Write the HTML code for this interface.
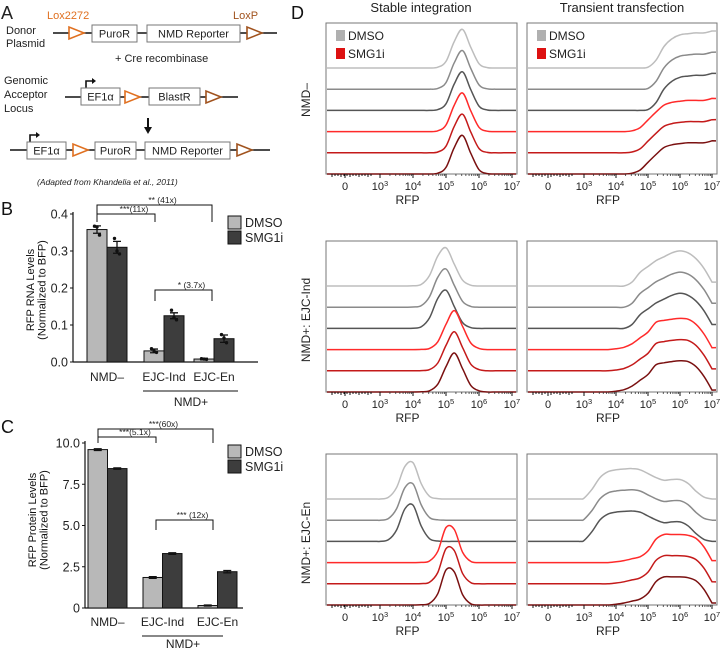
<!DOCTYPE html>
<html><head><meta charset="utf-8"><style>
html,body{margin:0;padding:0;background:#fff;}
svg{display:block;font-family:"Liberation Sans",sans-serif;}
</style></head><body>
<svg id="fig" width="720" height="649" viewBox="0 0 720 649">
<!-- Panel A -->
<g id="panelA" font-size="11" fill="#222">
  <text x="1" y="19" font-size="18">A</text>
  <text x="47" y="19" fill="#e07020">Lox2272</text>
  <text x="233" y="19" fill="#a0521d">LoxP</text>
  <text x="6" y="34">Donor</text>
  <text x="6" y="47">Plasmid</text>
  <line x1="53" y1="33" x2="277" y2="33" stroke="#111" stroke-width="1.6"/>
  <polygon points="69,27 69,39 84,33" fill="#fff" stroke="#e07020" stroke-width="1.6"/>
  <rect x="92" y="25" width="45" height="17" fill="#fff" stroke="#777"/>
  <text x="114.5" y="37.5" text-anchor="middle">PuroR</text>
  <rect x="147" y="25" width="93" height="17" fill="#fff" stroke="#777"/>
  <text x="193.5" y="37.5" text-anchor="middle">NMD Reporter</text>
  <polygon points="247,27 247,39 262,33" fill="#fff" stroke="#a0521d" stroke-width="1.6"/>
  <text x="115" y="62">+ Cre recombinase</text>
  <text x="4" y="84">Genomic</text>
  <text x="4" y="98">Acceptor</text>
  <text x="4" y="112">Locus</text>
  <line x1="65" y1="97" x2="238" y2="97" stroke="#111" stroke-width="1.6"/>
  <path d="M86,88 V81 H93" fill="none" stroke="#111" stroke-width="1.6"/>
  <polygon points="92,78 96,81 92,84" fill="#111"/>
  <rect x="81" y="88" width="39" height="17" fill="#fff" stroke="#777"/>
  <text x="100.5" y="100.5" text-anchor="middle">EF1α</text>
  <polygon points="125,91 125,103 140,97" fill="#fff" stroke="#e07020" stroke-width="1.6"/>
  <rect x="149" y="88" width="51" height="17" fill="#fff" stroke="#777"/>
  <text x="174.5" y="100.5" text-anchor="middle">BlastR</text>
  <polygon points="206,91 206,103 221,97" fill="#fff" stroke="#a0521d" stroke-width="1.6"/>
  <line x1="148" y1="118" x2="148" y2="128" stroke="#111" stroke-width="2"/>
  <polygon points="144,127 152,127 148,134" fill="#111"/>
  <line x1="10" y1="150" x2="270" y2="150" stroke="#111" stroke-width="1.6"/>
  <path d="M30,142 V135 H37" fill="none" stroke="#111" stroke-width="1.6"/>
  <polygon points="36,132 40,135 36,138" fill="#111"/>
  <rect x="27" y="142" width="39" height="17" fill="#fff" stroke="#777"/>
  <text x="46.5" y="154.5" text-anchor="middle">EF1α</text>
  <polygon points="73,144 73,156 88,150" fill="#fff" stroke="#e07020" stroke-width="1.6"/>
  <rect x="95" y="142" width="41" height="17" fill="#fff" stroke="#777"/>
  <text x="115.5" y="154.5" text-anchor="middle">PuroR</text>
  <rect x="145" y="142" width="85" height="17" fill="#fff" stroke="#777"/>
  <text x="187.5" y="154.5" text-anchor="middle">NMD Reporter</text>
  <polygon points="237,144 237,156 252,150" fill="#fff" stroke="#a0521d" stroke-width="1.6"/>
  <text x="37" y="185" font-size="8.5" font-style="italic">(Adapted from Khandelia et al., 2011)</text>
</g>
<g id="panelB"></g>
<g id="panelC"></g>
<g id="panelD"></g>
</svg>
<script>
// ---------- Bar chart data ----------
var barCategories = ["NMD\u2013", "EJC-Ind", "EJC-En"];
var rnaDmso = [0.358, 0.030, 0.008];
var rnaSmg1i = [0.310, 0.125, 0.063];
var rnaDmsoErr = [0.010, 0.005, 0.002];
var rnaSmg1iErr = [0.016, 0.008, 0.010];
var rnaDmsoPts = [[0.367,0.365,0.343],[0.036,0.030,0.026],[0.009,0.008,0.007]];
var rnaSmg1iPts = [[0.334,0.300,0.292],[0.140,0.120,0.114],[0.074,0.065,0.052]];
var rnaTicks = [0.0, 0.1, 0.2, 0.3, 0.4];
var rnaTickLabels = ["0.0","0.1","0.2","0.3","0.4"];
var protDmso = [9.6, 1.85, 0.15];
var protSmg1i = [8.45, 3.30, 2.20];
var protDmsoErr = [0.05, 0.05, 0.03];
var protSmg1iErr = [0.04, 0.05, 0.07];
var protTicks = [0, 2.5, 5.0, 7.5, 10.0];
var protTickLabels = ["0","2.5","5.0","7.5","10.0"];

// ---------- Flow histogram data (normalized counts on log10 RFP grid 2.5..7 step 0.25) ----------
var histGrid = [2.5,2.75,3,3.25,3.5,3.75,4,4.25,4.5,4.75,5,5.25,5.5,5.75,6,6.25,6.5,6.75,7];
var stableNmdMinusDmso = [0,0,0,0,0,0,0,0,0,0.02,0.17,0.68,0.99,0.53,0.11,0.01,0,0,0];
var stableNmdMinusSmg1i = [0,0,0,0,0,0,0,0,0,0.02,0.17,0.68,0.99,0.53,0.11,0.01,0,0,0];
var stableEjcIndDmso = [0,0,0,0,0,0,0.005,0.04,0.27,0.77,0.98,0.56,0.15,0.02,0,0,0,0,0];
var stableEjcIndSmg1i = [0,0,0,0,0,0,0,0.005,0.03,0.2,0.65,1,0.6,0.17,0.03,0,0,0,0];
var stableEjcEnDmso = [0,0,0,0.04,0.29,0.83,0.93,0.39,0.07,0.01,0,0,0,0,0,0,0,0,0];
var stableEjcEnSmg1i = [0,0,0,0,0,0,0,0.005,0.04,0.29,0.9,0.85,0.27,0.03,0,0,0,0,0];
var transNmdMinusDmso = [0,0,0,0,0,0,0,0,0,0,0.02,0.2,0.55,0.75,0.85,0.88,0.9,0.9,0.95];
var transNmdMinusSmg1i = [0,0,0,0,0,0,0,0,0.02,0.1,0.3,0.5,0.68,0.75,0.78,0.8,0.8,0.8,0.85];
var transEjcIndDmso = [0,0,0,0,0,0,0,0,0.1,0.35,0.5,0.65,0.75,0.85,0.9,0.85,0.7,0.45,0.1];
var transEjcIndSmg1i = [0,0,0,0,0,0,0.02,0.06,0.15,0.3,0.45,0.7,0.75,0.78,0.8,0.78,0.65,0.4,0.05];
var transEjcEnDmso = [0,0,0.02,0.25,0.55,0.7,0.75,0.77,0.78,0.75,0.65,0.55,0.48,0.5,0.5,0.4,0.2,0.05,0];
var transEjcEnSmg1i = [0,0,0,0,0,0,0.02,0.05,0.1,0.15,0.3,0.6,0.72,0.72,0.72,0.7,0.62,0.4,0.05];
var rfpTickLogs = [0,3,4,5,6,7];
var rfpTickLabels = ["0","3","4","5","6","7"];
var rowLabels = ["NMD\u2013", "NMD+:  EJC-Ind", "NMD+:  EJC-En"];

var NS = "http://www.w3.org/2000/svg";
function el(tag, parent, attrs) {
  var e = document.createElementNS(NS, tag);
  for (var k in attrs) e.setAttribute(k, attrs[k]);
  parent.appendChild(e);
  return e;
}

// ---------- Bar chart builder ----------
function barChart(g, opt) {
  var y = function (v) { return opt.y0 - (v / opt.vmax) * (opt.y0 - opt.yTop); };
  var t = el("text", g, {x: 1, y: opt.labelY, "font-size": 18, fill: "#111"});
  
  
  t.textContent = opt.letter;
  var yl = el("text", g, {transform: "translate(" + opt.ylx + "," + opt.ylcy + ") rotate(-90)", "text-anchor": "middle", "font-size": 11, fill: "#111"});
  
  
  var ts1 = el("tspan", yl, {x: 0, dy: 0}); ts1.textContent = opt.ytitle;
  var ts2 = el("tspan", yl, {x: 0, dy: 11.5}); ts2.textContent = "(Normalized to BFP)";
  var ax = el("line", g, {x1: opt.axX, y1: opt.yTop - 2, x2: opt.axX, y2: opt.y0, stroke: "#111", "stroke-width": 1.2});
  
  
  var xa = el("line", g, {x1: opt.axX, y1: opt.y0, x2: opt.xEnd, y2: opt.y0, stroke: "#111", "stroke-width": 1.2});
  
  
  opt.ticks.forEach(function (v, i) {
    var tk = el("line", g, {x1: opt.axX - 3, y1: y(v), x2: opt.axX, y2: y(v), stroke: "#111"});
    
    
    var tl = el("text", g, {x: opt.axX - 5, y: y(v) + 4.5, "text-anchor": "end", "font-size": 12.5, fill: "#222"});
    
    
    tl.textContent = opt.tickLabels[i];
  });
  barCategories.forEach(function (c, i) {
    var xs = opt.groupX[i];
    [[opt.d, opt.dErr, opt.dPts, "#b8b8b8", 0], [opt.s, opt.sErr, opt.sPts, "#3d3d3d", 1]].forEach(function (sr) {
      var bx = xs + sr[4] * opt.bw;
      var r = el("rect", g, {x: bx, y: y(sr[0][i]), width: opt.bw, height: opt.y0 - y(sr[0][i]), fill: sr[3], stroke: "#111", "stroke-width": 1});
      
      
      var cx = bx + opt.bw / 2, hi = y(sr[0][i] + sr[1][i]), lo = y(sr[0][i] - sr[1][i]);
      var eb = el("path", g, {d: "M" + cx + "," + hi + "V" + lo + "M" + (cx - 4) + "," + hi + "H" + (cx + 4) + "M" + (cx - 4) + "," + lo + "H" + (cx + 4), stroke: "#111", "stroke-width": 1.3, fill: "none"});
      
      
      if (sr[2]) sr[2][i].forEach(function (p, k) {
        var d = el("circle", g, {cx: cx + (k - 1) * 2.5, cy: y(p), r: 1.7, fill: "#111"});
        
        
      });
    });
    var cl = el("text", g, {x: xs + opt.bw, y: opt.catY, "text-anchor": "middle", "font-size": 12, fill: "#222"});
    
    
    cl.textContent = c;
  });
  var nl = el("line", g, {x1: opt.groupX[1] - 1, y1: opt.catY + opt.lineOff, x2: opt.xEnd - 20, y2: opt.catY + opt.lineOff, stroke: "#111"});
  
  
  var nt = el("text", g, {x: (opt.groupX[1] + opt.xEnd - 20) / 2, y: opt.catY + opt.textOff, "text-anchor": "middle", "font-size": 12, fill: "#222"});
  
  
  nt.textContent = "NMD+";
  opt.brackets.forEach(function (b) {
    var p = el("path", g, {d: "M" + b[0] + "," + b[3] + "V" + b[2] + "H" + b[1] + "V" + b[3], fill: "none", stroke: "#111", "stroke-width": 1});
    
    
    var bt = el("text", g, {x: (b[0] + b[1]) / 2 + 8, y: b[2] - 2, "text-anchor": "middle", "font-size": 8.5, fill: "#222"});
    
    
    bt.textContent = b[4];
  });
  [["DMSO", "#b8b8b8", 0], ["SMG1i", "#3d3d3d", 1]].forEach(function (L) {
    var ly = opt.legY + L[2] * 15;
    var lr = el("rect", g, {x: 228, y: ly, width: 13, height: 13, fill: L[1], stroke: "#111"});
    
    
    var lt = el("text", g, {x: 245, y: ly + 11, "font-size": 12.5, fill: "#222"});
    
    
    lt.textContent = L[0];
  });
}

barChart(document.getElementById("panelB"), {
  letter: "B", labelY: 215, y0: 362, yTop: 214, vmax: 0.4, axX: 73, xEnd: 258,
  ticks: rnaTicks, tickLabels: rnaTickLabels, groupX: [87, 144, 194], bw: 20,
  d: rnaDmso, s: rnaSmg1i, dErr: rnaDmsoErr, sErr: rnaSmg1iErr, dPts: rnaDmsoPts, sPts: rnaSmg1iPts,
  catY: 381, lineOff: 10, textOff: 25, ylx: 34, ylcy: 290, ytitle: "RFP RNA Levels", legY: 216,
  brackets: [[97, 212, 205, 222, "** (41x)"], [97, 155, 214, 222, "***(11x)"], [155, 212, 290, 301, "* (3.7x)"]]
});
barChart(document.getElementById("panelC"), {
  letter: "C", labelY: 433, y0: 608, yTop: 443, vmax: 10, axX: 85, xEnd: 243,
  ticks: protTicks, tickLabels: protTickLabels, groupX: [88, 143, 198], bw: 19.5,
  d: protDmso, s: protSmg1i, dErr: protDmsoErr, sErr: protSmg1iErr, dPts: null, sPts: null,
  catY: 626, lineOff: 10, textOff: 22, ylx: 36, ylcy: 520, ytitle: "RFP Protein Levels", legY: 445,
  brackets: [[98, 213, 429, 443, "***(60x)"], [98, 156, 437, 443, "***(5.1x)"], [156, 213, 520, 530, "*** (12x)"]]
});

// ---------- Panel D ----------
(function () {
  var g = document.getElementById("panelD");
  var lt = el("text", g, {x: 291, y: 19, "font-size": 18, fill: "#111"});
  
  
  lt.textContent = "D";
  [["Stable integration", 421], ["Transient transfection", 622]].forEach(function (T) {
    var t = el("text", g, {x: T[1], y: 12, "text-anchor": "middle", "font-size": 13, fill: "#222"});
    
    
    t.textContent = T[0];
  });
  var rowTops = [23, 241, 454];
  var rowCenters = [100, 320, 543];
  var colBoxes = [{x: 326, w: 191, z: 19, d3: 54, dec: 33}, {x: 527, w: 190, z: 21, d3: 57, dec: 32}];
  var profiles = [
    [[stableNmdMinusDmso, stableNmdMinusSmg1i], [transNmdMinusDmso, transNmdMinusSmg1i]],
    [[stableEjcIndDmso, stableEjcIndSmg1i], [transEjcIndDmso, transEjcIndSmg1i]],
    [[stableEjcEnDmso, stableEjcEnSmg1i], [transEjcEnDmso, transEjcEnSmg1i]]
  ];
  var colors = ["#bdbdbd", "#8a8a8a", "#555555", "#ff2a2a", "#c41a1a", "#7a1010"];
  rowTops.forEach(function (top, r) {
    var rl = el("text", g, {transform: "translate(310," + rowCenters[r] + ") rotate(-90)", "text-anchor": "middle", "font-size": 12, fill: "#222", "xml:space": "preserve"});
    
    
    rl.textContent = rowLabels[r];
    colBoxes.forEach(function (B, c) {
      var H = 151, bottom = top + H;
      var pos = function (L) { return L < 3 ? B.x + B.z + (L / 3) * (B.d3 - B.z) : B.x + B.d3 + (L - 3) * B.dec; };
      var box = el("rect", g, {x: B.x, y: top, width: B.w, height: H, fill: "#fff", stroke: "#777", "stroke-width": 1});
      
      
      for (var i = 0; i < 6; i++) {
        var base = top + 45 + i * 21.2;
        var prof = profiles[r][c][i < 3 ? 0 : 1];
        var pts = histGrid.map(function (L, k) { return [pos(L), base - prof[k] * 39]; });
        var d = "M" + (B.x + 1) + "," + base + "L" + pts[0][0] + "," + pts[0][1];
        for (var k = 0; k < pts.length - 1; k++) {
          var p0 = pts[Math.max(0, k - 1)], p1 = pts[k], p2 = pts[k + 1], p3 = pts[Math.min(pts.length - 1, k + 2)];
          var c1x = p1[0] + (p2[0] - p0[0]) / 6, c1y = p1[1] + (p2[1] - p0[1]) / 6;
          var c2x = p2[0] - (p3[0] - p1[0]) / 6, c2y = p2[1] - (p3[1] - p1[1]) / 6;
          d += "C" + c1x.toFixed(1) + "," + c1y.toFixed(1) + " " + c2x.toFixed(1) + "," + c2y.toFixed(1) + " " + p2[0].toFixed(1) + "," + p2[1].toFixed(1);
        }
        var last = pts[pts.length - 1];
        d += "L" + (B.x + B.w - 1) + "," + last[1];
        var path = el("path", g, {d: d, fill: "none", stroke: colors[i], "stroke-width": 1.5});
        
        
      }
      for (var m = 0; m < 14; m++) {
        var mx = B.x + 6 + m * 3;
        var mt = el("line", g, {x1: mx, y1: bottom, x2: mx, y2: bottom + (m % 3 ? 2 : 3), stroke: "#111", "stroke-width": 1});
        
        
      }
      for (var dd = 3; dd < 7; dd++) for (var s = 2; s < 10; s++) {
        var sx = pos(dd + Math.log10(s));
        var st = el("line", g, {x1: sx, y1: bottom, x2: sx, y2: bottom + 2, stroke: "#333", "stroke-width": 0.8});
        
        
      }
      rfpTickLogs.forEach(function (L, k) {
        var tx = pos(L);
        var tk = el("line", g, {x1: tx, y1: bottom, x2: tx, y2: bottom + 4, stroke: "#111"});
        
        
        var tl = el("text", g, {x: tx, y: bottom + 16, "text-anchor": "middle", "font-size": 11, fill: "#222"});
        
        
        if (L === 0) { tl.textContent = "0"; }
        else {
          var a = el("tspan", tl, {}); a.textContent = "10";
          var b = el("tspan", tl, {dy: -4, "font-size": 7.5}); b.textContent = rfpTickLabels[k];
        }
      });
      var xt = el("text", g, {x: B.x + B.w / 2 - 14, y: bottom + 30, "text-anchor": "middle", "font-size": 12, fill: "#222"});
      
      
      xt.textContent = "RFP";
      if (r === 0) {
        [["DMSO", "#b0b0b0", 0], ["SMG1i", "#dd1111", 1]].forEach(function (L) {
          var ly = top + 7 + L[2] * 18;
          var sw = el("rect", g, {x: B.x + 10, y: ly, width: 9, height: 11, fill: L[1]});
          
          
          var tx = el("text", g, {x: B.x + 22, y: ly + 10, "font-size": 12, fill: "#222"});
          
          
          tx.textContent = L[0];
        });
      }
    });
  });
})();
</script>
</body></html>
